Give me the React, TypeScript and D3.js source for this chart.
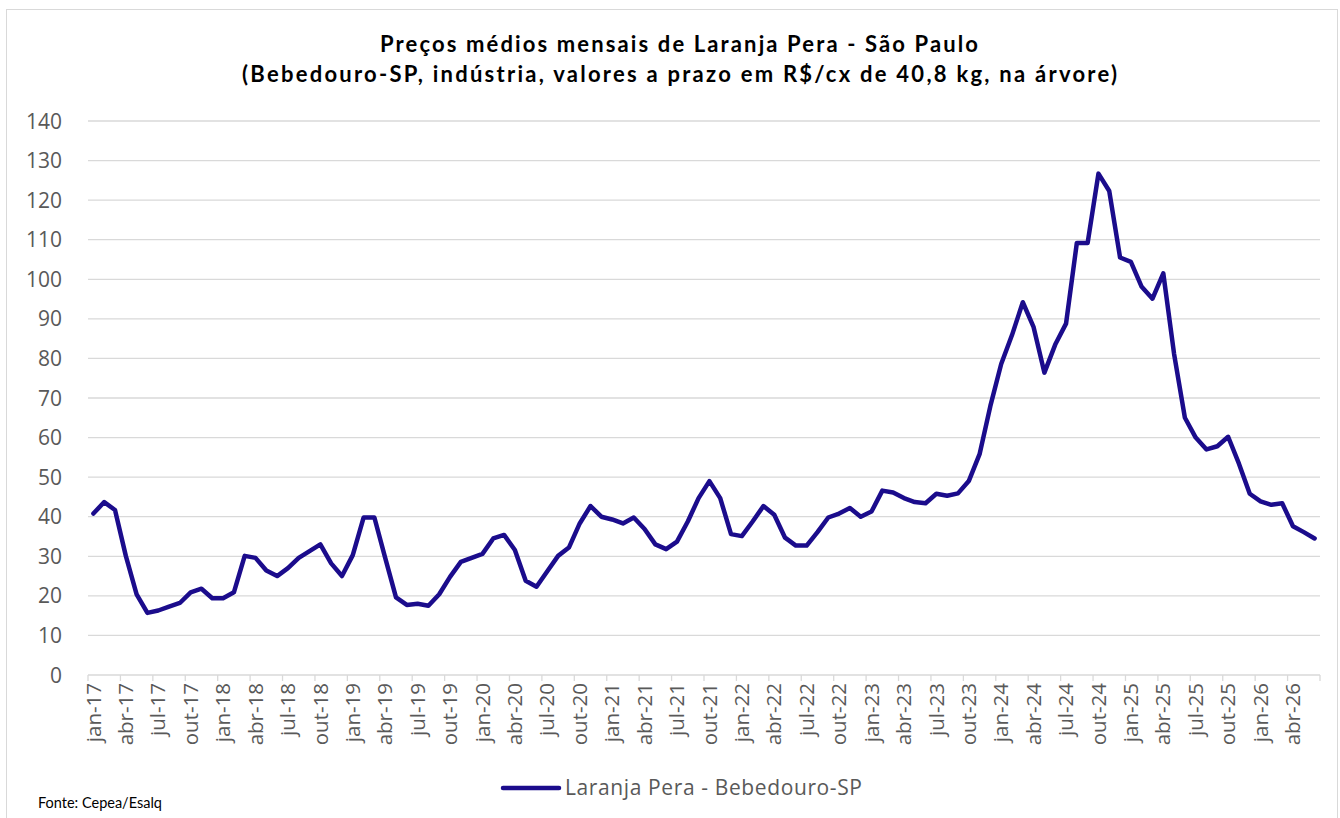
import React from "react";
import * as d3 from "d3";

const MONTHS = ["jan", "fev", "mar", "abr", "mai", "jun", "jul", "ago", "set", "out", "nov", "dez"];
const YEARS = ["17", "18", "19", "20", "21", "22", "23", "24", "25", "26"];

const v2017 = [40.8, 43.7, 41.7, 30.1, 20.4, 15.7, 16.3, 17.3, 18.2, 20.9, 21.8, 19.4];
const v2018 = [19.4, 20.9, 30.1, 29.6, 26.4, 25.0, 27.0, 29.6, 31.3, 33.0, 28.2, 25.0];
const v2019 = [30.3, 39.8, 39.8, 29.6, 19.6, 17.7, 18.0, 17.5, 20.4, 24.8, 28.6, 29.6];
const v2020 = [30.6, 34.5, 35.4, 31.6, 23.8, 22.3, 26.2, 30.1, 32.2, 38.3, 42.7, 40.0];
const v2021 = [39.3, 38.3, 39.8, 36.9, 33.0, 31.8, 33.7, 38.8, 44.7, 49.0, 44.7, 35.6];
const v2022 = [35.1, 38.8, 42.7, 40.5, 34.7, 32.7, 32.7, 36.1, 39.8, 40.8, 42.2, 40.0];
const v2023 = [41.3, 46.6, 46.1, 44.7, 43.7, 43.4, 45.8, 45.3, 45.9, 49.0, 55.8, 68.0];
const v2024 = [78.6, 85.9, 94.2, 87.9, 76.4, 83.5, 88.8, 109.2, 109.2, 126.7, 122.3, 105.5];
const v2025 = [104.4, 98.1, 95.1, 101.5, 81.1, 65.0, 60.0, 57.0, 57.8, 60.2, 53.4, 45.8];
const v2026 = [43.9, 43.0, 43.4, 37.6, 36.1, 34.5];

const values: number[] = [
  ...v2017, ...v2018, ...v2019, ...v2020, ...v2021,
  ...v2022, ...v2023, ...v2024, ...v2025, ...v2026,
];
const categories: string[] = values.map((_, i) => `${MONTHS[i % 12]}-${YEARS[Math.floor(i / 12)]}`);
const yTicks = [0, 10, 20, 30, 40, 50, 60, 70, 80, 90, 100, 110, 120, 130, 140];

const TITLE1 = "Preços médios mensais de Laranja Pera - São Paulo";
const TITLE2 = "(Bebedouro-SP, indústria, valores a prazo em R$/cx de 40,8 kg, na árvore)";
const SERIES = "Laranja Pera - Bebedouro-SP";
const SOURCE = "Fonte: Cepea/Esalq";

export default function App() {
  const W = 1340, H = 818;
  const left = 88, right = 1320, top = 121, bottom = 675;
  const x = d3.scaleBand<number>().domain(values.map((_, i) => i)).range([left, right]).padding(0);
  const bw = x.bandwidth();
  const xc = (i: number) => (x(i) as number) + bw / 2;
  const y = d3.scaleLinear().domain([0, 140]).range([bottom, top]);
  const line = d3.line<number>().x((_, i) => xc(i)).y((d) => y(d));
  const color = "#1b0c8c";
  const gray = "#595959";
  const tickIdx = values.map((_, i) => i).filter((i) => i % 3 === 0);
  const font = "'Open Sans', sans-serif";
  const titleFont = "Lato, sans-serif";

  return (
    <svg width={W} height={H} style={{ position: "absolute", left: 0, top: 0, background: "#fff" }}>
      <rect x={0} y={0} width={W} height={H} fill="#fff" />
      <rect x={6.5} y={9.5} width={1331} height={840} fill="none" stroke="#d9d9d9" strokeWidth={1} />
      <text x={679} y={52} textAnchor="middle" fontFamily={titleFont} fontWeight={700} fontSize={22} fill="#000" textLength={598} lengthAdjust="spacing">{TITLE1}</text>
      <text x={679.5} y={82} textAnchor="middle" fontFamily={titleFont} fontWeight={700} fontSize={22} fill="#000" textLength={875} lengthAdjust="spacing">{TITLE2}</text>
      {yTicks.map((t) => (
        <g key={t}>
          {t > 0 && <line x1={left} x2={right} y1={y(t)} y2={y(t)} stroke="#d9d9d9" strokeWidth={1.3} />}
          <text x={62} y={y(t)} dy="0.36em" textAnchor="end" fontFamily={font} fontSize={21} fill={gray}>{t}</text>
        </g>
      ))}
      <line x1={left} x2={right} y1={bottom} y2={bottom} stroke="#d9d9d9" strokeWidth={1.3} />
      {tickIdx.map((i) => (
        <line key={"t" + i} x1={x(i) as number} x2={x(i) as number} y1={bottom} y2={bottom + 6} stroke="#d9d9d9" strokeWidth={1.3} />
      ))}
      <line x1={right} x2={right} y1={bottom} y2={bottom + 6} stroke="#d9d9d9" strokeWidth={1.3} />
      {tickIdx.map((i) => (
        <text key={"l" + i} transform={`translate(${xc(i)},${bottom + 8}) rotate(-90)`} textAnchor="end" dy="0.35em" fontFamily={font} fontSize={20.5} fill={gray}>{categories[i]}</text>
      ))}
      <path d={line(values) as string} fill="none" stroke={color} strokeWidth={4.5} strokeLinejoin="round" strokeLinecap="round" />
      <line x1={503} x2={559} y1={788} y2={788} stroke={color} strokeWidth={4.5} strokeLinecap="round" />
      <text x={565} y={788} dy="0.35em" fontFamily={font} fontSize={21} fill={gray} textLength={297} lengthAdjust="spacing">{SERIES}</text>
      <text x={38} y={808} fontFamily={titleFont} fontWeight={400} fontSize={14.5} fill="#000">{SOURCE}</text>
    </svg>
  );
}
